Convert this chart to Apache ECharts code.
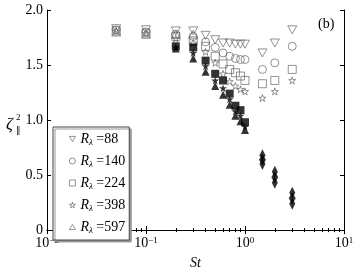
<!DOCTYPE html>
<html><head><meta charset="utf-8">
<script src="https://cdn.jsdelivr.net/npm/echarts@6/dist/echarts.min.js"></script>
<style>html,body{margin:0;padding:0;background:#fff}#c{width:360px;height:275px}</style>
</head><body><div id="c"></div>
<script>
// ---- data ----
var st = [0.05, 0.1, 0.2, 0.3, 0.4, 0.5, 0.6, 0.7, 0.8, 0.9, 1.0, 1.5, 2, 3];
var r88  = [1.83, 1.82, 1.81, 1.81, 1.77, 1.73, 1.70, 1.70, 1.69, 1.69, 1.69, 1.61, 1.70, 1.82];
var r140 = [1.82, 1.80, 1.78, 1.76, 1.71, 1.66, 1.61, 1.58, 1.56, 1.55, 1.55, 1.46, 1.52, 1.67];
var r224 = [1.81, 1.79, 1.76, 1.72, 1.67, 1.58, 1.51, 1.46, 1.43, 1.40, 1.36, 1.33, 1.36, 1.46];
var r398 = [1.81, 1.79, 1.74, 1.70, 1.62, 1.52, 1.42, 1.35, 1.31, 1.28, 1.26, 1.20, 1.26, 1.36];
var st597 = [0.05, 0.1, 0.2, 0.3];
var r597 = [1.80, 1.78, 1.78, 1.78];
// filled markers
var stF = [0.2, 0.3, 0.4, 0.5, 0.6, 0.7, 0.8, 0.9, 1.0];
var fSq   = [1.67, 1.66, 1.54, 1.42, 1.36, 1.24, 1.13, 1.09, 0.98];
var fStar = [1.66, 1.61, 1.49, 1.36, 1.29, 1.19, 1.08, 1.04, 0.94];
var fTri  = [1.65, 1.56, 1.44, 1.31, 1.23, 1.14, 1.04, 0.99, 0.91];
var stH = [1.5, 2, 3];
var hTop = [0.68, 0.53, 0.34];
var hMid = [0.64, 0.48, 0.29];
var hBot = [0.60, 0.43, 0.24];
var legendNames = ['88', '140', '224', '398', '597'];

var STAR = 'path://M0,-1L0.2245,-0.309L0.951,-0.309L0.363,0.118L0.588,0.809L0,0.382L-0.588,0.809L-0.363,0.118L-0.951,-0.309L-0.2245,-0.309Z';
var TRI_DOWN = 'path://M0,0L2,0L1,1.732Z';
var TRI_UP = 'path://M1,0L2,1.732L0,1.732Z';
var SERIF = 'Liberation Serif';
var GRAY = '#555';
function pairs(xs, ys){ return xs.map(function(x,i){ return [x, ys[i]]; }); }
function openSeries(name, xs, ys, symbol, size){
  return {name: name, type: 'scatter', data: pairs(xs, ys), symbol: symbol,
    symbolSize: size || 8, itemStyle: {color: 'rgba(255,255,255,0)', borderColor: GRAY, borderWidth: 0.8}, z: 3};
}
function filledSeries(xs, ys, symbol, size){
  return {type: 'scatter', data: pairs(xs, ys), symbol: symbol, symbolSize: size,
    itemStyle: {color: '#000', borderWidth: 0}, z: 4};
}
var legendIcons = [TRI_DOWN, 'circle', 'rect', STAR, TRI_UP];
var chart = echarts.init(document.getElementById('c'));
var axisCommon = {
  type: 'log', min: 0.01, max: 10, logBase: 10,
  axisLine: {lineStyle: {color: '#000', width: 1}},
  axisTick: {inside: true, length: 4, lineStyle: {color: '#000'}},
  minorTick: {show: true, splitNumber: 9, length: 2, lineStyle: {color: '#000'}},
  splitLine: {show: false}
};
chart.setOption({
  animation: false,
  grid: {left: 47, right: 16, top: 10, bottom: 35},
  xAxis: [
    Object.assign({}, axisCommon, {
      position: 'bottom',
      name: 'St', nameLocation: 'middle', nameGap: 24,
      nameTextStyle: {fontFamily: SERIF, fontStyle: 'italic', fontSize: 14, color: '#000'},
      axisLabel: {margin: 6, color: '#000', fontFamily: SERIF, fontSize: 14,
        formatter: function(v){ var e = Math.round(Math.log10(v)); return '10{sup|' + (e < 0 ? '\u2212' + (-e) : e) + '}'; },
        rich: {sup: {fontSize: 9, fontFamily: SERIF, verticalAlign: 'top', lineHeight: 8, padding: [0,0,6,0]}}}
    }),
    Object.assign({}, axisCommon, {position: 'top', axisLabel: {show: false}})
  ],
  yAxis: [
    {type: 'value', min: 0, max: 2, interval: 0.5, position: 'left',
      axisLine: {lineStyle: {color: '#000'}}, splitLine: {show: false},
      axisTick: {inside: true, length: 4, lineStyle: {color: '#000'}},
      axisLabel: {margin: 4, color: '#000', fontFamily: SERIF, fontSize: 14,
        formatter: function(v){ return v === 0 ? '0' : v.toFixed(1); }}},
    {type: 'value', min: 0, max: 2, interval: 0.5, position: 'right',
      axisLine: {lineStyle: {color: '#000'}}, splitLine: {show: false},
      axisTick: {inside: true, length: 4, lineStyle: {color: '#000'}}, axisLabel: {show: false}}
  ],
  legend: {
    orient: 'vertical', left: 53, top: 127,
    data: legendNames.map(function(n, i){ return {name: n, icon: legendIcons[i]}; }),
    padding: [5, 4, 5, 16], itemGap: 7, itemWidth: 6, itemHeight: 6, itemTextGap: 11,
    backgroundColor: '#fff', borderColor: '#444', borderWidth: 1,
    shadowColor: '#999', shadowOffsetX: 2, shadowOffsetY: 2, shadowBlur: 0,
    itemStyle: {color: 'rgba(255,255,255,0)', borderColor: GRAY, borderWidth: 0.8},
    formatter: function(n){ return '{i|R}{s|\u03bb} =' + n; },
    textStyle: {fontFamily: SERIF, fontSize: 14, color: '#000',
      rich: {i: {fontFamily: SERIF, fontStyle: 'italic', fontSize: 14, lineHeight: 16},
             s: {fontFamily: SERIF, fontStyle: 'italic', fontSize: 9, verticalAlign: 'bottom', lineHeight: 12}}}
  },
  graphic: [
    {type: 'text', left: 318, top: 17, style: {text: '(b)', fontFamily: SERIF, fontSize: 14, fill: '#000'}},
    {type: 'text', left: 6, top: 116, style: {text: '\u03b6', fontFamily: SERIF, fontStyle: 'italic', fontSize: 17, fill: '#000'}},
    {type: 'text', left: 16, top: 113, style: {text: '2', fontFamily: SERIF, fontSize: 9, fill: '#000'}},
    {type: 'text', left: 16, top: 126, style: {text: '\u2225', fontFamily: SERIF, fontSize: 9, fill: '#000'}}
  ],
  series: [
    openSeries('88', st, r88, TRI_DOWN, [9, 8]),
    openSeries('140', st, r140, 'circle', 8),
    openSeries('224', st, r224, 'rect', 8),
    openSeries('398', st, r398, STAR, 7),
    openSeries('597', st597, r597, TRI_UP, [9, 8]),
    filledSeries(stF, fSq, 'rect', 8),
    filledSeries(stF, fStar, STAR, 8),
    filledSeries(stF, fTri, TRI_UP, [8, 8]),
    filledSeries(stH, hTop, 'diamond', [6, 12]),
    filledSeries(stH, hMid, 'diamond', [7, 12]),
    filledSeries(stH, hBot, 'diamond', [6, 12])
  ]
});
</script></body></html>
